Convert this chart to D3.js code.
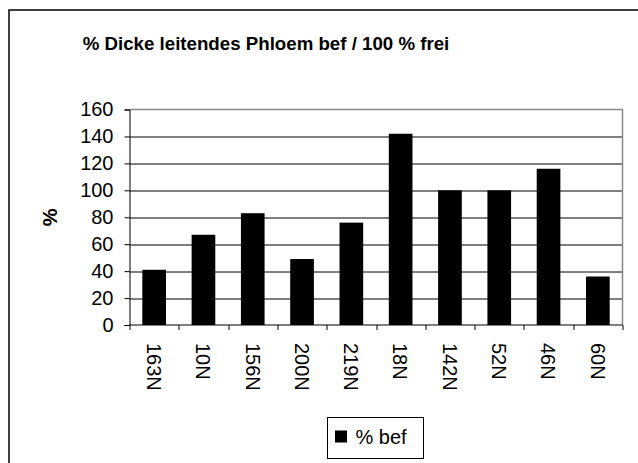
<!DOCTYPE html>
<html lang="de">
<head>
<meta charset="UTF-8">
<title>% Dicke leitendes Phloem bef / 100 % frei</title>
<script src="https://cdnjs.cloudflare.com/ajax/libs/d3/7.8.5/d3.min.js"></script>
<style>
  body { margin: 0; background: #fff; }
  svg { display: block; font-family: "Liberation Sans", Arial, sans-serif; }
  .grid line { stroke: #000; stroke-width: 1; }
</style>
</head>
<body>
<div id="chart"></div>
<script>
// data
var categories = ["163N", "10N", "156N", "200N", "219N", "18N", "142N", "52N", "46N", "60N"];
var values = [41, 67, 83, 49, 76, 142, 100, 100, 116, 36];
var yTicks = [0, 20, 40, 60, 80, 100, 120, 140, 160];
var seriesName = "% bef";

var W = 638, H = 463;
var margin = { top: 109.5, right: 15.5, bottom: 138, left: 129.5 };
var plotW = W - margin.left - margin.right,
    plotH = H - margin.top - margin.bottom;

var svg = d3.select("#chart").append("svg")
  .attr("width", W)
  .attr("height", H);

// outer chart frame (runs off the right and bottom edge)
svg.append("rect")
  .attr("x", 9).attr("y", 10)
  .attr("width", 660).attr("height", 480)
  .attr("fill", "#fff")
  .attr("stroke", "#000")
  .attr("stroke-width", 1.5);

svg.append("text")
  .attr("x", 266)
  .attr("y", 50)
  .attr("text-anchor", "middle")
  .attr("font-size", "18.7px")
  .attr("font-weight", "bold")
  .text("% Dicke leitendes Phloem bef / 100 % frei");

var g = svg.append("g")
  .attr("transform", "translate(" + margin.left + "," + margin.top + ")");

var x = d3.scaleBand()
  .domain(categories)
  .range([0, plotW])
  .paddingInner(0.52)
  .paddingOuter(0.26);

var y = d3.scaleLinear()
  .domain([0, 160])
  .range([plotH, 0]);

// gridlines
g.append("g").attr("class", "grid")
  .selectAll("line")
  .data(yTicks.filter(function (d) { return d > 0 && d < 160; }))
  .enter().append("line")
  .attr("x1", 0).attr("x2", plotW)
  .attr("y1", function (d) { return Math.round(y(d)) + 0.5; })
  .attr("y2", function (d) { return Math.round(y(d)) + 0.5; });

// plot area border (top & right grey)
g.append("path")
  .attr("d", "M0," + y(160) + "H" + plotW + "V" + plotH)
  .attr("fill", "none")
  .attr("stroke", "#888")
  .attr("stroke-width", 1.5);

// bars
g.selectAll("rect.bar")
  .data(values)
  .enter().append("rect")
  .attr("class", "bar")
  .attr("x", function (d, i) { return x(categories[i]); })
  .attr("width", x.bandwidth())
  .attr("y", function (d) { return y(d); })
  .attr("height", function (d) { return plotH - y(d); })
  .attr("fill", "#000");

// y axis
var yAxis = g.append("g")
  .call(d3.axisLeft(y).tickValues(yTicks).tickSize(5).tickPadding(11));
yAxis.select(".domain").attr("stroke", "#000");
yAxis.selectAll("text")
  .attr("font-size", "20px")
  .attr("font-family", "Liberation Sans, Arial, sans-serif")
  .attr("fill", "#000");

// x axis line and boundary ticks
var xAxis = g.append("g").attr("transform", "translate(0," + plotH + ")");
xAxis.append("line")
  .attr("x1", 0).attr("x2", plotW)
  .attr("stroke", "#000");
xAxis.selectAll("line.tick")
  .data(d3.range(categories.length + 1))
  .enter().append("line")
  .attr("class", "tick")
  .attr("x1", function (i) { return Math.round(i * x.step()) + 0.5; })
  .attr("x2", function (i) { return Math.round(i * x.step()) + 0.5; })
  .attr("y1", 0).attr("y2", 5)
  .attr("stroke", "#000");

xAxis.selectAll("text")
  .data(categories)
  .enter().append("text")
  .attr("transform", function (d) {
    return "translate(" + (x(d) + x.bandwidth() / 2) + ",18) rotate(90)";
  })
  .attr("dy", "0.36em")
  .attr("text-anchor", "start")
  .attr("font-size", "20px")
  .text(function (d) { return d; });

// y axis title
svg.append("text")
  .attr("transform", "translate(50," + (margin.top + plotH / 2) + ") rotate(-90)")
  .attr("dy", "0.36em")
  .attr("text-anchor", "middle")
  .attr("font-size", "20px")
  .attr("font-weight", "bold")
  .text("%");

// legend
var legend = svg.append("g").attr("transform", "translate(327.5,417.5)");
legend.append("rect")
  .attr("width", 96).attr("height", 41)
  .attr("fill", "#fff")
  .attr("stroke", "#000");
legend.append("rect")
  .attr("x", 7.5).attr("y", 13)
  .attr("width", 12).attr("height", 12)
  .attr("fill", "#000");
legend.append("text")
  .attr("x", 28)
  .attr("y", 19)
  .attr("dy", "0.36em")
  .attr("font-size", "20px")
  .text(seriesName);
</script>
</body>
</html>
